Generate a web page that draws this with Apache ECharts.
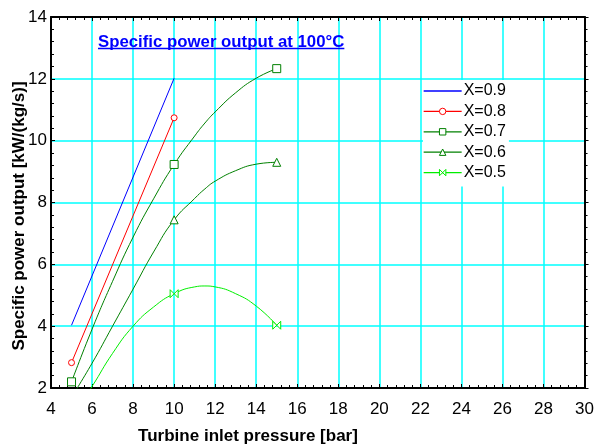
<!DOCTYPE html>
<html>
<head>
<meta charset="utf-8">
<script src="https://cdn.jsdelivr.net/npm/echarts@6/dist/echarts.min.js"></script>
<style>html,body{margin:0;padding:0;background:#fff}#c{width:597px;height:446px}</style>
</head>
<body>
<div id="c"></div>
<script>
// ---- data ----
var seriesNames = ['X=0.9', 'X=0.8', 'X=0.7', 'X=0.6', 'X=0.5'];
var pressure = [5, 10, 15];                 // measured points (bar), shown with markers
var x09 = [4.03, 12.02];                    // at 5, 10 bar
var x08 = [2.82, 10.74];                    // at 5, 10 bar
// fitted curves as read off the picture (markers only at the measured pressures)
var curveP = [5, 6, 7, 8, 9, 10, 11, 11.5, 12, 13, 14, 15];
var x07 = [2.2, 3.9, 5.45, 6.88, 8.12, 9.23, 10.15, 10.57, 10.93, 11.55, 12.02, 12.33];
var x06 = [1.7, 2.8, 4.0, 5.2, 6.4, 7.44, 8.13, 8.44, 8.69, 9.03, 9.24, 9.30];
var x05 = [1.05, 2.05, 3.12, 4.0, 4.62, 5.05, 5.27, 5.3, 5.27, 5.05, 4.65, 4.03];
var xTicks = [4, 30, 2];                    // min, max, step
var yTicks = [2, 14, 2];
var titleText = 'Specific power output at 100\u00B0C';
var xTitle = 'Turbine inlet pressure [bar]';
var yTitle = 'Specific power output [kW/(kg/s)]';

function straight(vals) { return vals.map(function (v, i) { return [pressure[i], v]; }); }
function curve(vals) {
  return vals.map(function (v, i) {
    var p = curveP[i];
    return pressure.indexOf(p) >= 0 ? [p, v] : { value: [p, v], symbol: 'none' };
  });
}

var bowtie = 'path://M0,0 L0,10 L10,0 L10,10 Z';
var styles = [
  { color: '#0000ff', symbol: 'circle', size: 0, show: false },
  { color: '#ff0000', symbol: 'circle', size: 6, show: true },
  { color: '#008000', symbol: 'rect', size: 8, show: true },
  { color: '#008000', symbol: 'triangle', size: 8, show: true },
  { color: '#00ee00', symbol: bowtie, size: 8, show: true }
];
var dataSets = [straight(x09), straight(x08), curve(x07), curve(x06), curve(x05)];
var smoothFlags = [false, false, true, true, true];

var series = dataSets.map(function (d, i) {
  var s = styles[i];
  return {
    name: seriesNames[i],
    type: 'line',
    data: d,
    smooth: smoothFlags[i],
    symbol: s.symbol,
    symbolSize: s.size,
    showSymbol: s.show,
    showAllSymbol: true,
    clip: true,
    lineStyle: { color: s.color, width: 1 },
    itemStyle: { color: '#ffffff', borderColor: s.color, borderWidth: 1 },
    emphasis: { disabled: true },
    z: 5
  };
});

var legendData = seriesNames.map(function (n, i) {
  return i === 0 ? { name: n, itemStyle: { opacity: 0 } } : { name: n };
});

// measure title width for underline
var cv = document.createElement('canvas').getContext('2d');
var titleFont = 'bold 16.8px Arial, "Liberation Sans", sans-serif';
cv.font = titleFont;
var tw = cv.measureText(titleText).width;

var axisFont = { fontFamily: 'Arial, "Liberation Sans", sans-serif', fontSize: 17, color: '#000' };

var chart = echarts.init(document.getElementById('c'), null, { renderer: 'canvas' });
chart.setOption({
  animation: false,
  backgroundColor: '#fff',
  grid: { left: 51, right: 10, top: 17, bottom: 58, containLabel: false },
  xAxis: [
    {
      type: 'value', min: xTicks[0], max: xTicks[1], interval: xTicks[2], position: 'bottom',
      axisLine: { show: true, onZero: false, lineStyle: { color: '#000', width: 2 } },
      axisTick: { show: true, inside: true, length: 4, lineStyle: { color: '#000' } },
      minorTick: { show: true, splitNumber: 5, length: 3, lineStyle: { color: '#000' } },
      splitLine: { show: true, lineStyle: { color: '#00ffff', width: 1.5 } },
      axisLabel: Object.assign({ margin: 13 }, axisFont)
    },
    {
      type: 'value', min: xTicks[0], max: xTicks[1], interval: xTicks[2], position: 'top',
      axisLine: { show: true, onZero: false, lineStyle: { color: '#000', width: 2 } },
      axisTick: { show: true, inside: true, length: 4, lineStyle: { color: '#000' } },
      minorTick: { show: true, splitNumber: 5, length: 3, lineStyle: { color: '#000' } },
      splitLine: { show: false },
      axisLabel: { show: false }
    }
  ],
  yAxis: [
    {
      type: 'value', min: yTicks[0], max: yTicks[1], interval: yTicks[2], position: 'left',
      axisLine: { show: true, onZero: false, lineStyle: { color: '#000', width: 2 } },
      axisTick: { show: true, inside: true, length: 4, lineStyle: { color: '#000' } },
      minorTick: { show: true, splitNumber: 5, length: 3, lineStyle: { color: '#000' } },
      splitLine: { show: true, lineStyle: { color: '#00ffff', width: 1.5 } },
      axisLabel: Object.assign({ margin: 4 }, axisFont)
    },
    {
      type: 'value', min: yTicks[0], max: yTicks[1], interval: yTicks[2], position: 'right',
      axisLine: { show: true, onZero: false, lineStyle: { color: '#000', width: 2 } },
      axisTick: { show: true, inside: false, length: 4, lineStyle: { color: '#000' } },
      minorTick: { show: true, splitNumber: 5, length: 3, lineStyle: { color: '#000' } },
      splitLine: { show: false },
      axisLabel: { show: false }
    }
  ],
  legend: {
    data: legendData,
    orient: 'vertical',
    left: 423, top: 80,
    backgroundColor: '#fff',
    padding: [3, 3, 6, 0],
    itemWidth: 38, itemHeight: 8, itemGap: 4.4,
    itemStyle: { borderWidth: 1 },
    lineStyle: { width: 1.3 },
    textStyle: { fontFamily: 'Arial, "Liberation Sans", sans-serif', fontSize: 16, color: '#000', padding: [0, 0, 0, -3] },
    selectedMode: false
  },
  graphic: [
    { type: 'text', z: 10, style: { text: titleText, x: 98, y: 42, font: titleFont, fill: '#0000ff', textAlign: 'left', textVerticalAlign: 'middle' } },
    { type: 'line', z: 10, shape: { x1: 98, y1: 48.5, x2: 98 + tw, y2: 48.5 }, style: { stroke: '#0000ff', lineWidth: 1.5 } },
    { type: 'text', z: 10, style: { text: xTitle, x: 248, y: 436, font: 'bold 17px Arial, "Liberation Sans", sans-serif', fill: '#000', textAlign: 'center', textVerticalAlign: 'middle' } },
    { type: 'text', z: 10, rotation: Math.PI / 2, x: 19, y: 216, style: { text: yTitle, x: 0, y: 0, font: 'bold 17px Arial, "Liberation Sans", sans-serif', fill: '#000', textAlign: 'center', textVerticalAlign: 'middle' } }
  ],
  series: series
});
</script>
</body>
</html>
